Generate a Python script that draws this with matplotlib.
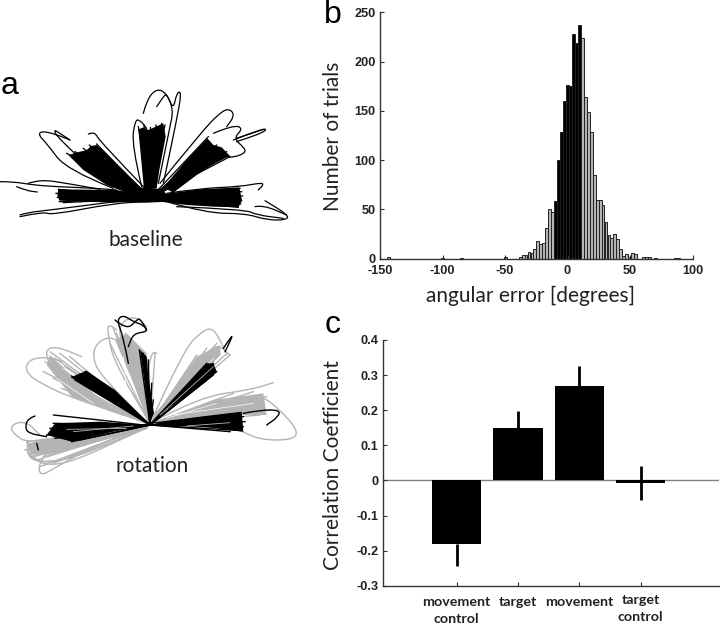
"""
Three-panel figure: reach trajectories, angular error histogram, correlation bars.
"""
import matplotlib

matplotlib.use("Agg")
import matplotlib.pyplot as plt
from matplotlib.patches import PathPatch
from matplotlib.path import Path

FIG_W, FIG_H = 720, 627
TICK_FONT = "Liberation Sans"
LABEL_FONT = "Lato"
LETTER_FONT = "Liberation Sans"

plt.rcParams["axes.unicode_minus"] = False

# panel b
error_centers = [
    -143.5, -100.0, -84.5, -49.6,
    -37.9, -35.5, -33.2, -30.8, -28.4, -26.1, -23.7, -21.3, -19.0, -16.6, -14.2, -11.9,
    -9.5, -7.1, -4.7, -2.4, 0.0, 2.4, 4.7, 7.1, 9.5,
    11.9, 14.2, 16.6, 19.0, 21.3, 23.7, 26.1, 28.4, 30.8, 33.2, 35.5, 37.9, 40.3, 42.6,
    45.0, 47.4, 49.8, 52.1, 54.5,
    60.8, 63.2, 65.6, 70.7, 86.7, 89.0,
]
error_counts = [
    2, 1, 1, 2,
    2, 4, 4, 7, 6, 10, 18, 15, 16, 31, 50, 47,
    59, 100, 129, 160, 176, 175, 228, 219, 237,
    224, 164, 149, 129, 85, 60, 60, 54, 37, 24, 21, 25, 20, 10,
    3, 5, 2, 6, 5,
    2, 2, 2, 1, 1, 1,
]
error_xticks = [-150, -100, -50, 0, 50, 100]
error_yticks = [0, 50, 100, 150, 200, 250]

# panel c
corr_positions = [1, 2, 3, 4]
corr_values = [-0.18, 0.15, 0.27, -0.008]
corr_err_low = [0.065, 0.0, 0.0, 0.047]
corr_err_high = [0.0, 0.048, 0.055, 0.05]
corr_labels = ["movement\ncontrol", "target", "movement", "target\ncontrol"]
corr_yticks = [-0.3, -0.2, -0.1, 0, 0.1, 0.2, 0.3, 0.4]
corr_yticklabels = ["-0.3", "-0.2", "-0.1", "0", "0.1", "0.2", "0.3", "0.4"]

# panel a (x, y in a 900 x 570 frame)
baseline_center = (450, 385)
baseline_fills = [
    [(440, 378), (350, 360), (175, 358), (172, 375), (178, 392), (260, 395), (340, 398), (440, 393)],
    [(440, 372), (420, 350), (290, 225), (272, 228), (262, 240), (240, 245), (205, 255), (250, 300), (320, 345), (400, 376)],
    [(432, 358), (415, 178), (432, 172), (445, 180), (468, 170), (490, 160), (497, 200), (478, 300), (470, 355)],
    [(490, 352), (560, 270), (622, 205), (640, 225), (665, 232), (690, 258), (640, 280), (590, 315), (520, 368)],
    [(490, 372), (600, 358), (718, 352), (722, 372), (726, 392), (715, 412), (640, 410), (560, 405), (480, 395)],
    [(370, 362), (430, 352), (490, 358), (510, 395), (440, 398), (370, 395)],
]
baseline_ends = [
    (200, 250), (215, 262), (225, 245), (240, 248), (250, 235), (262, 240), (268, 225), (280, 232), (290, 222), (300, 235),
    (415, 170), (425, 180), (432, 165), (440, 182), (450, 170), (458, 185), (468, 165), (476, 180), (485, 160), (495, 165),
    (625, 200), (635, 225), (650, 225), (660, 240), (680, 245), (690, 260), (670, 265), (655, 270),
    (720, 355), (725, 365), (728, 378), (725, 392), (722, 402), (715, 412),
    (175, 358), (168, 370), (172, 382), (178, 395), (190, 398),
]
baseline_lines = [
    [(0, 335), (40, 335), (100, 345), (170, 350), (290, 355), (350, 360)],
    [(50, 350), (80, 362), (112, 366)],
    [(85, 340), (120, 328), (200, 340), (300, 358)],
    [(60, 440), (130, 425), (155, 435), (340, 400), (440, 395)],
    [(60, 435), (80, 428), (150, 420), (345, 395)],
    [(440, 360), (300, 215), (285, 187), (265, 192)],
    [(340, 355), (200, 300), (140, 220), (115, 195), (125, 183), (165, 192), (210, 210)],
    [(210, 210), (180, 190), (160, 178), (175, 205), (300, 320), (400, 365)],
    [(425, 350), (395, 225), (405, 150), (420, 150), (440, 175)],
    [(430, 130), (440, 90), (470, 55), (500, 70), (520, 120), (510, 170), (475, 340)],
    [(470, 110), (490, 80), (500, 70), (520, 120), (530, 68), (545, 65), (530, 150), (490, 340)],
    [(480, 340), (600, 190), (670, 118), (695, 120), (702, 140), (680, 170)],
    [(640, 190), (700, 165), (730, 175), (700, 205), (735, 235), (735, 250), (700, 262), (680, 260)],
    [(700, 210), (795, 172), (798, 185), (710, 215)],
    [(710, 205), (790, 178)],
    [(500, 370), (600, 355), (720, 350), (785, 338), (790, 345), (775, 360)],
    [(500, 395), (620, 430), (735, 430), (800, 450), (860, 450), (865, 435), (795, 392)],
    [(765, 410), (790, 405), (860, 435)],
    [(530, 410), (735, 418), (770, 435), (850, 445)],
]

rotation_center = (450, 375)
rotation_gray_fills = [
    [(445, 372), (215, 290), (140, 195), (150, 165), (215, 225), (330, 320)],
    [(450, 365), (345, 120), (380, 100), (440, 160), (458, 350)],
    [(455, 360), (590, 170), (660, 135), (662, 165), (480, 345)],
    [(465, 365), (640, 300), (790, 280), (800, 345), (640, 345)],
    [(440, 378), (170, 410), (85, 430), (90, 465), (150, 460), (300, 420)],
]
rotation_gray_ends = [
    (135, 185), (150, 155), (165, 175), (180, 160), (195, 200), (210, 170), (130, 215), (160, 235), (185, 265),
    (340, 85), (350, 100), (360, 125), (375, 100), (395, 130), (430, 160), (465, 160), (330, 130),
    (590, 165), (620, 145), (650, 130), (675, 165), (690, 165), (640, 170),
    (660, 295), (700, 280), (760, 275), (800, 290), (810, 330), (780, 345), (760, 300), (700, 335),
    (80, 425), (75, 450), (90, 470), (110, 480), (130, 470), (100, 440), (120, 500), (160, 490), (200, 470),
]
rotation_gray_lines = [
    [(445, 370), (230, 300), (120, 250), (75, 215), (85, 180), (135, 170), (190, 185)],
    [(445, 370), (190, 240), (150, 200), (135, 150), (165, 140), (210, 155), (245, 170)],
    [(440, 365), (300, 230), (275, 160), (300, 120), (340, 110), (380, 150)],
    [(445, 360), (345, 200), (320, 85), (330, 75), (350, 90)],
    [(450, 360), (350, 110), (370, 60), (410, 50), (440, 80)],
    [(460, 360), (435, 250), (455, 155), (470, 160)],
    [(460, 350), (550, 150), (610, 90), (640, 85), (665, 130), (680, 165)],
    [(460, 350), (600, 180), (650, 130), (690, 165)],
    [(470, 360), (600, 290), (750, 270), (820, 248)],
    [(470, 365), (660, 300), (780, 285), (830, 320), (895, 390), (880, 420), (780, 420), (720, 390), (650, 370)],
    [(440, 380), (300, 430), (170, 500), (120, 530), (115, 490), (165, 430)],
    [(440, 380), (250, 470), (110, 490), (80, 460), (85, 430)],
    [(440, 385), (100, 470)],
    [(440, 378), (100, 440), (30, 395), (40, 370), (80, 365), (120, 405)],
    [(440, 385), (280, 450), (160, 490), (100, 480), (80, 450), (85, 425)],
    [(445, 380), (320, 440), (200, 490), (130, 495), (100, 470)],
    [(440, 385), (230, 440), (130, 465), (90, 450), (80, 425)],
    [(470, 365), (620, 330), (780, 300), (800, 340), (760, 345)],
]
rotation_white_lines = [
    [(490, 345), (640, 175)],
    [(500, 355), (650, 310)],
    [(520, 345), (760, 310)],
    [(380, 280), (370, 170)],
    [(300, 290), (190, 205)],
    [(280, 310), (170, 235)],
]
rotation_black_fills = [
    [(448, 372), (212, 232), (260, 212), (300, 240), (345, 270), (430, 355)],
    [(450, 365), (420, 150), (440, 170), (445, 230), (462, 340)],
    [(455, 365), (620, 190), (640, 190), (650, 215), (600, 255), (480, 345)],
    [(455, 368), (600, 350), (725, 335), (730, 395), (650, 385)],
    [(445, 375), (300, 365), (165, 370), (140, 405), (215, 425), (340, 395)],
]
rotation_black_ends = [
    (215, 228), (225, 240), (240, 222), (255, 215), (270, 225), (285, 235), (300, 245), (320, 265), (345, 275),
    (418, 150), (430, 160), (445, 180), (455, 250), (460, 300),
    (620, 190), (640, 190), (650, 215), (640, 225), (620, 240), (600, 255),
    (720, 340), (730, 350), (735, 365), (730, 380), (725, 392), (690, 395),
    (160, 370), (150, 385), (140, 405), (165, 415), (215, 425), (240, 420),
]
rotation_black_lines = [
    [(385, 190), (370, 110), (350, 60), (370, 45), (400, 65), (430, 75), (445, 95), (400, 100), (385, 140)],
    [(345, 60), (380, 90), (410, 60), (420, 55), (440, 90)],
    [(670, 145), (700, 100), (690, 125), (675, 155)],
    [(730, 340), (780, 330), (840, 330), (835, 350), (800, 375)],
    [(160, 345), (300, 360), (430, 375)],
    [(105, 348), (85, 355), (75, 380), (85, 400), (140, 410)],
    [(110, 430), (115, 450)],
]
rotation_streaks = [
    [(480, 345), (640, 200)],
    [(560, 378), (690, 368)],
    [(220, 395), (400, 378)],
    [(200, 388), (380, 385)],
]


def axes_px(fig, left, top, right, bottom):
    return fig.add_axes(
        [left / FIG_W, 1 - bottom / FIG_H, (right - left) / FIG_W, (bottom - top) / FIG_H]
    )


def fig_text(fig, x, y, s, **kwargs):
    kwargs.setdefault("va", "center")
    fig.text(x / FIG_W, 1 - y / FIG_H, s, ha="center", **kwargs)


def smooth_path(points):
    verts = [points[0]]
    codes = [Path.MOVETO]
    for p, q in zip(points[1:-1], points[2:]):
        verts += [p, ((p[0] + q[0]) / 2, (p[1] + q[1]) / 2)]
        codes += [Path.CURVE3, Path.CURVE3]
    verts.append(points[-1])
    codes.append(Path.LINETO)
    return Path(verts, codes)


def draw_paths(ax, fills, lines, color, lw, zorder=1):
    for poly in fills:
        ax.fill([p[0] for p in poly], [p[1] for p in poly], color=color, lw=0, zorder=zorder)
    for path in lines:
        ax.add_patch(PathPatch(smooth_path(path), fill=False, edgecolor=color, lw=lw,
                               capstyle="round", joinstyle="round", zorder=zorder))


def draw_fan(ax, center, ends, color, lw, zorder=1):
    for end in ends:
        ax.plot([center[0], end[0]], [center[1], end[1]], color=color, lw=lw, zorder=zorder)


def trajectory_axes(fig, top, bottom):
    ax = axes_px(fig, 0, top, 300, bottom)
    ax.set_xlim(0, 900)
    ax.set_ylim(570, 0)
    ax.axis("off")
    return ax


def style_axis(ax):
    ax.spines["top"].set_visible(False)
    ax.spines["right"].set_visible(False)
    for side in ("left", "bottom"):
        ax.spines[side].set_color("#333333")
        ax.spines[side].set_linewidth(1.0)
    ax.tick_params(direction="in", length=3, width=0.8, color="#333333", pad=3)
    ax.tick_params(axis="x", pad=4.5)
    for label in ax.get_xticklabels() + ax.get_yticklabels():
        label.set_fontfamily(TICK_FONT)
        label.set_fontweight("bold")
        label.set_fontsize(9.2)
        label.set_color("#222222")


def plot_histogram(fig):
    ax = axes_px(fig, 380, 12.3, 692.5, 258.7)
    colors = ["black" if abs(c) < 10.67 else "#b4b4b4" for c in error_centers]
    ax.bar(error_centers, error_counts, width=2.37, color=colors, edgecolor="#222222", linewidth=0.7)
    ax.set_xlim(-150, 100)
    ax.set_ylim(0, 250)
    ax.set_xticks(error_xticks)
    ax.set_yticks(error_yticks)
    style_axis(ax)


def plot_correlation(fig):
    ax = axes_px(fig, 382.7, 340, 719.3, 585.7)
    ax.bar(corr_positions, corr_values, width=0.8, color="black")
    ax.errorbar(corr_positions, corr_values, yerr=[corr_err_low, corr_err_high], fmt="none",
                ecolor="black", elinewidth=2.0)
    ax.axhline(0, color="#808080", lw=1.0, zorder=0.5)
    ax.set_xlim(-0.205, 5.28)
    ax.set_ylim(-0.3, 0.4)
    ax.set_xticks(corr_positions)
    ax.set_xticklabels([])
    ax.set_yticks(corr_yticks)
    ax.set_yticklabels(corr_yticklabels)
    style_axis(ax)
    for pos, label in zip(corr_positions, corr_labels):
        offset = -6 if pos == 4 else -7.5
        ax.annotate(label, (pos, 0), xycoords=ax.get_xaxis_transform(), xytext=(0, offset),
                    textcoords="offset points", ha="center", va="top",
                    fontfamily=LABEL_FONT, fontweight="bold", fontsize=10.3, color="#222222",
                    linespacing=1.5)


def main():
    fig = plt.figure(figsize=(FIG_W / 100, FIG_H / 100), dpi=100)

    ax = trajectory_axes(fig, 70, 260)
    draw_fan(ax, baseline_center, baseline_ends, "black", 0.9)
    draw_paths(ax, baseline_fills, baseline_lines, "black", 0.9)

    ax = trajectory_axes(fig, 300, 490)
    draw_fan(ax, rotation_center, rotation_gray_ends, "#b4b4b4", 1.0, zorder=1)
    draw_paths(ax, rotation_gray_fills, rotation_gray_lines, "#b4b4b4", 1.0, zorder=1)
    draw_paths(ax, [], rotation_white_lines, "white", 0.5, zorder=2)
    draw_fan(ax, rotation_center, rotation_black_ends, "black", 1.0, zorder=3)
    draw_paths(ax, rotation_black_fills, rotation_black_lines, "black", 1.0, zorder=3)
    draw_paths(ax, [], rotation_streaks, "#b4b4b4", 0.6, zorder=4)

    plot_histogram(fig)
    plot_correlation(fig)

    fig_text(fig, 10, 94, "a", fontfamily=LETTER_FONT, fontsize=23, va="baseline")
    fig_text(fig, 333, 23, "b", fontfamily=LETTER_FONT, fontsize=23, va="baseline")
    fig_text(fig, 333, 333, "c", fontfamily=LETTER_FONT, fontsize=23, va="baseline")
    fig_text(fig, 146, 240, "baseline", fontfamily=LABEL_FONT, fontsize=15, color="#222222")
    fig_text(fig, 152, 466, "rotation", fontfamily=LABEL_FONT, fontsize=15, color="#222222")
    fig_text(fig, 530, 296, "angular error [degrees]", fontfamily=LABEL_FONT, fontsize=15, color="#222222")
    fig_text(fig, 333, 136, "Number of trials", fontfamily=LABEL_FONT, fontsize=15, color="#222222", rotation=90)
    fig_text(fig, 333, 465, "Correlation Coefficient", fontfamily=LABEL_FONT, fontsize=15, color="#222222", rotation=90)

    fig.savefig("out.png", dpi=100)
    plt.close(fig)


if __name__ == "__main__":
    main()
